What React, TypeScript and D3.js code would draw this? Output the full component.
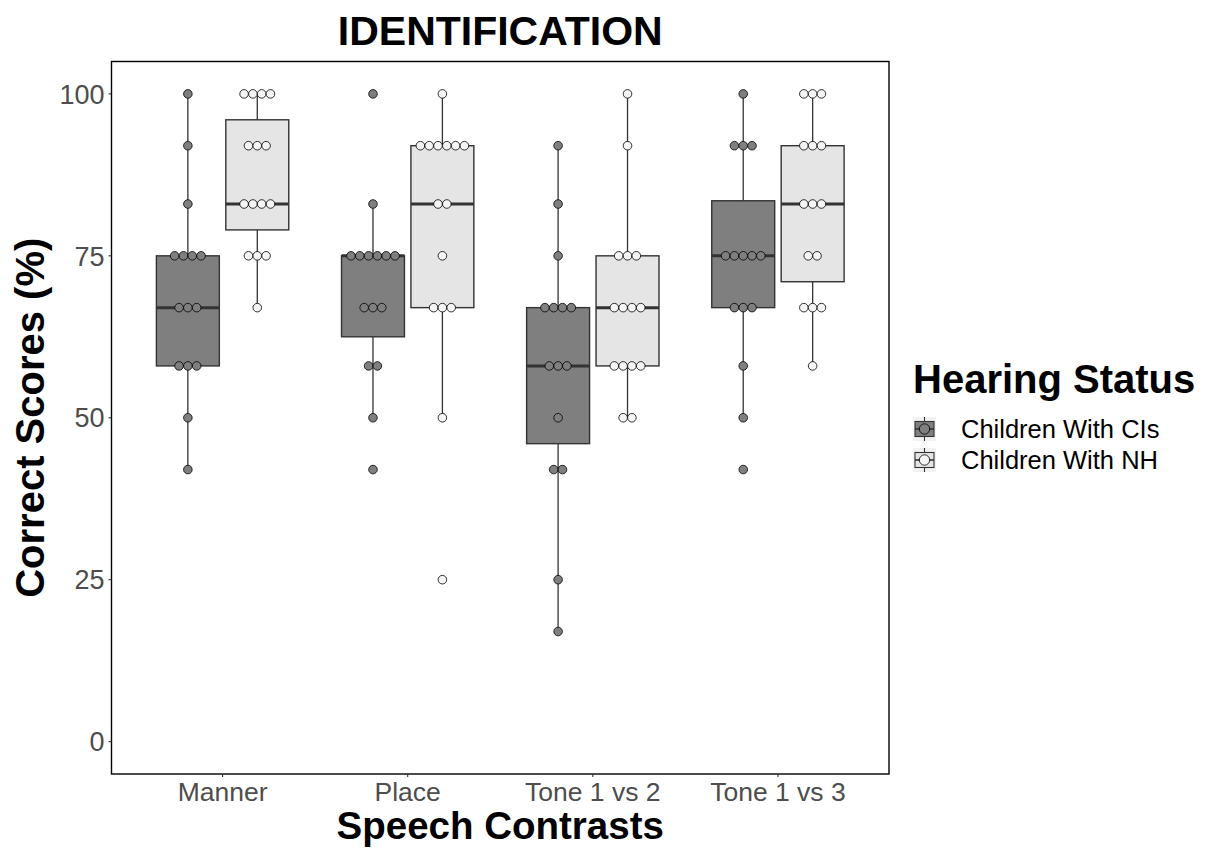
import React from "react";
import * as d3 from "d3";

const categories = ["Manner", "Place", "Tone 1 vs 2", "Tone 1 vs 3"];
const groups = ["Children With CIs", "Children With NH"];
const yTicks = [0, 25, 50, 75, 100];

// scores per child (%), one array per contrast and hearing group
const mannerCI = [100, 92, 83, 75, 75, 75, 75, 67, 67, 67, 58, 58, 58, 50, 42];
const mannerNH = [100, 100, 100, 100, 92, 92, 92, 83, 83, 83, 83, 75, 75, 75, 67];
const placeCI = [100, 83, 75, 75, 75, 75, 75, 75, 67, 67, 67, 58, 58, 50, 42];
const placeNH = [100, 92, 92, 92, 92, 92, 92, 83, 83, 75, 67, 67, 67, 50, 25];
const tone12CI = [92, 83, 75, 67, 67, 67, 67, 58, 58, 58, 50, 42, 42, 25, 17];
const tone12NH = [100, 92, 75, 75, 75, 67, 67, 67, 67, 58, 58, 58, 58, 50, 50];
const tone13CI = [100, 92, 92, 92, 75, 75, 75, 75, 75, 67, 67, 67, 58, 50, 42];
const tone13NH = [100, 100, 100, 92, 92, 92, 83, 83, 83, 75, 75, 67, 67, 67, 58];

const seriesCI = [mannerCI, placeCI, tone12CI, tone13CI];
const seriesNH = [mannerNH, placeNH, tone12NH, tone13NH];

const boxFill = ["#7f7f7f", "#e5e5e5"];
const dotFill = ["#7f7f7f", "#f4f4f4"];

const FONT = "'Liberation Sans', Arial, Helvetica, sans-serif";

const W = 1207;
const H = 850;
const pL = 111.5;
const pR = 889;
const pT = 61.5;
const pB = 774;

function boxStats(values: number[]) {
  const s = [...values].sort((a, b) => a - b);
  const q1 = d3.quantileSorted(s, 0.25) as number;
  const med = d3.quantileSorted(s, 0.5) as number;
  const q3 = d3.quantileSorted(s, 0.75) as number;
  const iqr = q3 - q1;
  const lo = q1 - 1.5 * iqr;
  const hi = q3 + 1.5 * iqr;
  const wLo = d3.min(s.filter((v) => v >= lo)) as number;
  const wHi = d3.max(s.filter((v) => v <= hi)) as number;
  return { q1, med, q3, wLo, wHi };
}

export default function App() {
  const x = d3.scalePoint<string>().domain(categories).range([pL, pR]).padding(0.6);
  const y = d3.scaleLinear().domain([-5, 105]).range([pB, pT]);
  const step = x.step();
  const dodge = 0.1875 * step;
  const boxW = 0.34 * step;
  const dotD = 8.8;

  const stroke = "#333333";

  const renderGroup = (cat: string, ci: number, gi: number) => {
    const values = gi === 0 ? seriesCI[ci] : seriesNH[ci];
    const cx = (x(cat) as number) + (gi === 0 ? -dodge : dodge);
    const st = boxStats(values);
    const counts = d3.rollups(values, (v) => v.length, (v) => v);
    const dots: { x: number; y: number }[] = [];
    counts.forEach(([val, n]) => {
      for (let i = 0; i < n; i++) {
        dots.push({ x: cx + (i - (n - 1) / 2) * dotD, y: y(val) });
      }
    });
    return (
      <g key={cat + gi}>
        <line x1={cx} x2={cx} y1={y(st.q3)} y2={y(st.wHi)} stroke={stroke} strokeWidth={1.3} />
        <line x1={cx} x2={cx} y1={y(st.q1)} y2={y(st.wLo)} stroke={stroke} strokeWidth={1.3} />
        <rect
          x={cx - boxW / 2}
          y={y(st.q3)}
          width={boxW}
          height={y(st.q1) - y(st.q3)}
          fill={boxFill[gi]}
          stroke={stroke}
          strokeWidth={1.4}
        />
        <line
          x1={cx - boxW / 2}
          x2={cx + boxW / 2}
          y1={y(st.med)}
          y2={y(st.med)}
          stroke={stroke}
          strokeWidth={3}
        />
        {dots.map((d, i) => (
          <circle key={i} cx={d.x} cy={d.y} r={4.3} fill={dotFill[gi]} stroke="#000" strokeWidth={0.8} />
        ))}
      </g>
    );
  };

  const legendY = [429, 460];

  return (
    <svg
      width={W}
      height={H}
      style={{ position: "absolute", left: 0, top: 0, background: "#fff" }}
      fontFamily={FONT}
    >
      <rect x={0} y={0} width={W} height={H} fill="#fff" />
      {/* title */}
      <text x={(pL + pR) / 2} y={45} textAnchor="middle" fontSize={41} fontWeight="bold" fill="#000">
        IDENTIFICATION
      </text>

      {/* boxes & dots */}
      {categories.map((cat, ci) => (
        <g key={cat}>
          {renderGroup(cat, ci, 0)}
          {renderGroup(cat, ci, 1)}
        </g>
      ))}

      {/* panel border */}
      <rect x={pL} y={pT} width={pR - pL} height={pB - pT} fill="none" stroke="#000" strokeWidth={1.4} />

      {/* y axis */}
      {yTicks.map((t) => (
        <g key={t}>
          <line x1={pL - 3} x2={pL} y1={y(t)} y2={y(t)} stroke={stroke} strokeWidth={1.1} />
          <text x={pL - 7} y={y(t)} dy="0.36em" textAnchor="end" fontSize={27} fill="#4d4d4d">
            {t}
          </text>
        </g>
      ))}

      {/* x axis */}
      {categories.map((c) => (
        <g key={c}>
          <line x1={x(c)} x2={x(c)} y1={pB} y2={pB + 3} stroke={stroke} strokeWidth={1.1} />
          <text x={x(c)} y={800.5} textAnchor="middle" fontSize={26.5} fill="#4d4d4d">
            {c}
          </text>
        </g>
      ))}

      {/* axis titles */}
      <text x={(pL + pR) / 2} y={839} textAnchor="middle" fontSize={38.5} fontWeight="bold" fill="#000">
        Speech Contrasts
      </text>
      <text
        transform={`translate(43.5, ${(pT + pB) / 2}) rotate(-90)`}
        textAnchor="middle"
        fontSize={40}
        fontWeight="bold"
        fill="#000"
      >
        Correct Scores (%)
      </text>

      {/* legend */}
      <text x={913} y={393} fontSize={40} fontWeight="bold" fill="#000">
        Hearing Status
      </text>
      {groups.map((g, gi) => {
        const cy = legendY[gi];
        const kx = 913;
        const kw = 23;
        const kcx = kx + kw / 2;
        return (
          <g key={g}>
            <rect x={kx} y={cy - 12} width={kw} height={24} fill="#f2f2f2" />
            <line x1={kcx} x2={kcx} y1={cy - 12} y2={cy + 12} stroke={stroke} strokeWidth={1.1} />
            <rect x={kx + 2} y={cy - 7.5} width={kw - 4} height={15} fill={boxFill[gi]} stroke={stroke} strokeWidth={1.1} />
            <line x1={kx + 2} x2={kx + kw - 2} y1={cy} y2={cy} stroke={stroke} strokeWidth={1.6} />
            <circle cx={kcx} cy={cy} r={5.2} fill={dotFill[gi]} stroke="#000" strokeWidth={0.8} />
            <text x={961} y={cy + 9} fontSize={25.5} fill="#000">
              {g}
            </text>
          </g>
        );
      })}
    </svg>
  );
}
